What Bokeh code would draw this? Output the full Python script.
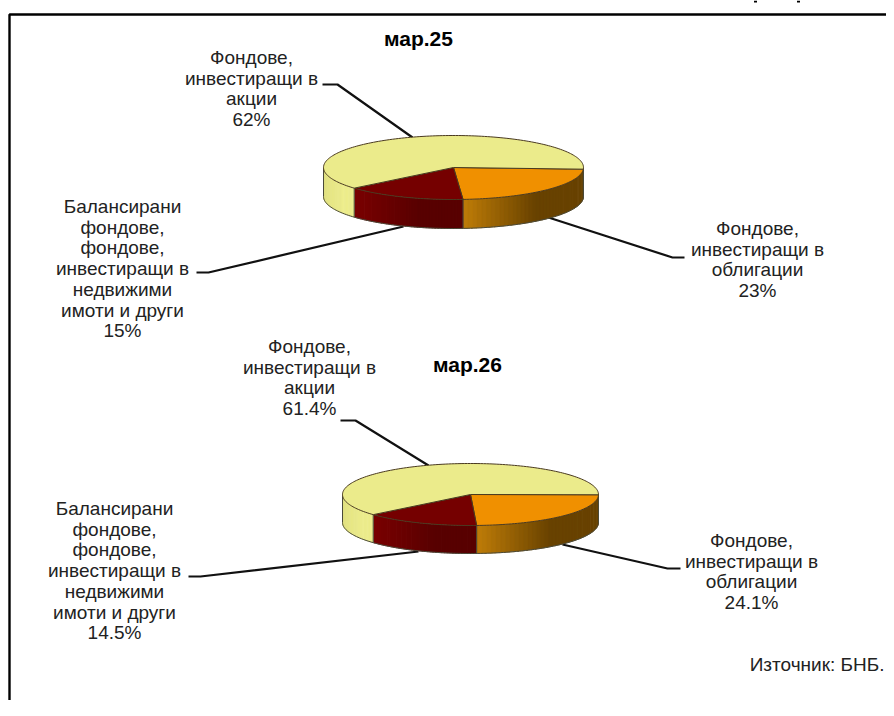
from bokeh.plotting import figure
from bokeh.models import Range1d
from bokeh.core.properties import value
from bokeh.embed import file_html
from bokeh.resources import INLINE
import math

categories = ["Фондове, инвестиращи в облигации",
              "Балансирани фондове, фондове, инвестиращи в недвижими имоти и други",
              "Фондове, инвестиращи в акции"]
titles = ["мар.25", "мар.26"]
shares_2025 = [23, 15, 62]
shares_2026 = [24.1, 14.5, 61.4]
label_2025 = ["23%", "15%", "62%"]
label_2026 = ["24.1%", "14.5%", "61.4%"]
top_colors = ["#F09000", "#750000", "#EBEB8B"]
side_left = [(190, 124, 8), (122, 0, 0), (226, 226, 128)]
side_right = [(104, 66, 0), (88, 0, 0), (236, 236, 140)]

W, H = 886, 700
p = figure(width=W, height=H, x_range=Range1d(0, W), y_range=Range1d(H, 0),
           output_backend="svg", toolbar_location=None, min_border=0,
           outline_line_color=None, background_fill_color="white")
p.axis.visible = False
p.grid.visible = False

FONT = value("Liberation Sans")

def lerp(a, b, t):
    t = min(max(t, 0.0), 1.0)
    return "#%02x%02x%02x" % tuple(int(round(a[i] + (b[i] - a[i]) * t)) for i in range(3))

def pie(cx, cy, rx, ry, depth, start, shares):
    pt = lambda a: (cx + rx * math.cos(a), cy + ry * math.sin(a))
    ang = start
    spans = []
    for s in shares:
        sweep = s / sum(shares) * 2 * math.pi
        spans.append((ang, ang + sweep))
        ang += sweep
    xs, ys, cols = [], [], []
    for i, (a0, a1) in enumerate(spans):
        lo, hi = max(a0, 0), min(a1, math.pi)
        if hi <= lo:
            continue
        n = 40
        for k in range(n):
            b0 = lo + (hi - lo) * k / n
            b1 = min(lo + (hi - lo) * (k + 1.25) / n, hi)
            x0, y0 = pt(b0)
            x1, y1 = pt(b1)
            xs.append([x0, x1, x1, x0])
            ys.append([y0, y1, y1 + depth, y0 + depth])
            xl, xr = pt(hi)[0], pt(lo)[0]
            cols.append(lerp(side_left[i], side_right[i], (0.5 * (x0 + x1) - xl) / (xr - xl) / 0.6))
    p.patches(xs, ys, fill_color=cols, line_color=cols, line_width=0.5)
    arc = [k / 120 * math.pi for k in range(121)]
    p.line([pt(a)[0] for a in arc], [pt(a)[1] + depth for a in arc], line_color="#4a4a3a", line_width=1)
    for a in [0, math.pi] + [s[0] for s in spans if 0 < s[0] < math.pi]:
        x, y = pt(a)
        p.line([x, x], [y, y + depth], line_color="#4a4a3a", line_width=1)
    for i, (a0, a1) in enumerate(spans):
        n = max(2, int((a1 - a0) * 40))
        pts = [pt(a0 + (a1 - a0) * k / n) for k in range(n + 1)]
        p.patch([cx] + [q[0] for q in pts], [cy] + [q[1] for q in pts],
                fill_color=top_colors[i], line_color="#4a3a20", line_width=1)

def label(x, y, lines):
    p.text([x] * len(lines), [y + k * 20.7 for k in range(len(lines))], text=lines,
           text_font=FONT, text_font_size="19px", text_align="center",
           text_baseline="middle", text_color="#222222")

def leader(xs, ys):
    p.line(xs, ys, line_color="#111111", line_width=2.2)

p.line([886, 9, 9], [14, 14, 700], line_color="black", line_width=2.4)
# feet of the heading that is cut off above the frame
p.segment([755, 798], [0, 0], [755, 798], [2, 2], line_color="black", line_width=3)

leader([322, 337, 412], [84, 84, 137])
leader([196, 208, 403], [272, 272, 226])
leader([548, 672, 684], [217, 257, 257])
leader([340, 355, 428], [420, 420, 465])
leader([188, 200, 418], [576, 576, 551])
leader([562, 667, 680], [544, 568, 568])

pie(453, 167, 130, 32, 29, math.radians(3), shares_2025)
pie(470, 494, 128, 31, 28, math.radians(0.5), shares_2026)

for (x, y, t) in [(418, 38, titles[0]), (467, 364, titles[1])]:
    p.text([x], [y], text=[t], text_font=FONT, text_font_size="21px", text_font_style="bold",
           text_align="center", text_baseline="middle", text_color="black")

label(251, 57, ["Фондове,", "инвестиращи в", "акции", label_2025[2]])
label(122, 206, ["Балансирани", "фондове,", "фондове,", "инвестиращи в", "недвижими", "имоти и други", label_2025[1]])
label(757, 228, ["Фондове,", "инвестиращи в", "облигации", label_2025[0]])
label(309, 346, ["Фондове,", "инвестиращи в", "акции", label_2026[2]])
label(114, 508, ["Балансирани", "фондове,", "фондове,", "инвестиращи в", "недвижими", "имоти и други", label_2026[1]])
label(751, 540, ["Фондове,", "инвестиращи в", "облигации", label_2026[0]])

p.text([884], [664], text=["Източник: БНБ."], text_font=FONT, text_font_size="19px",
       text_align="right", text_baseline="middle", text_color="#222222")

open("out.html", "w").write(file_html(p, INLINE))
